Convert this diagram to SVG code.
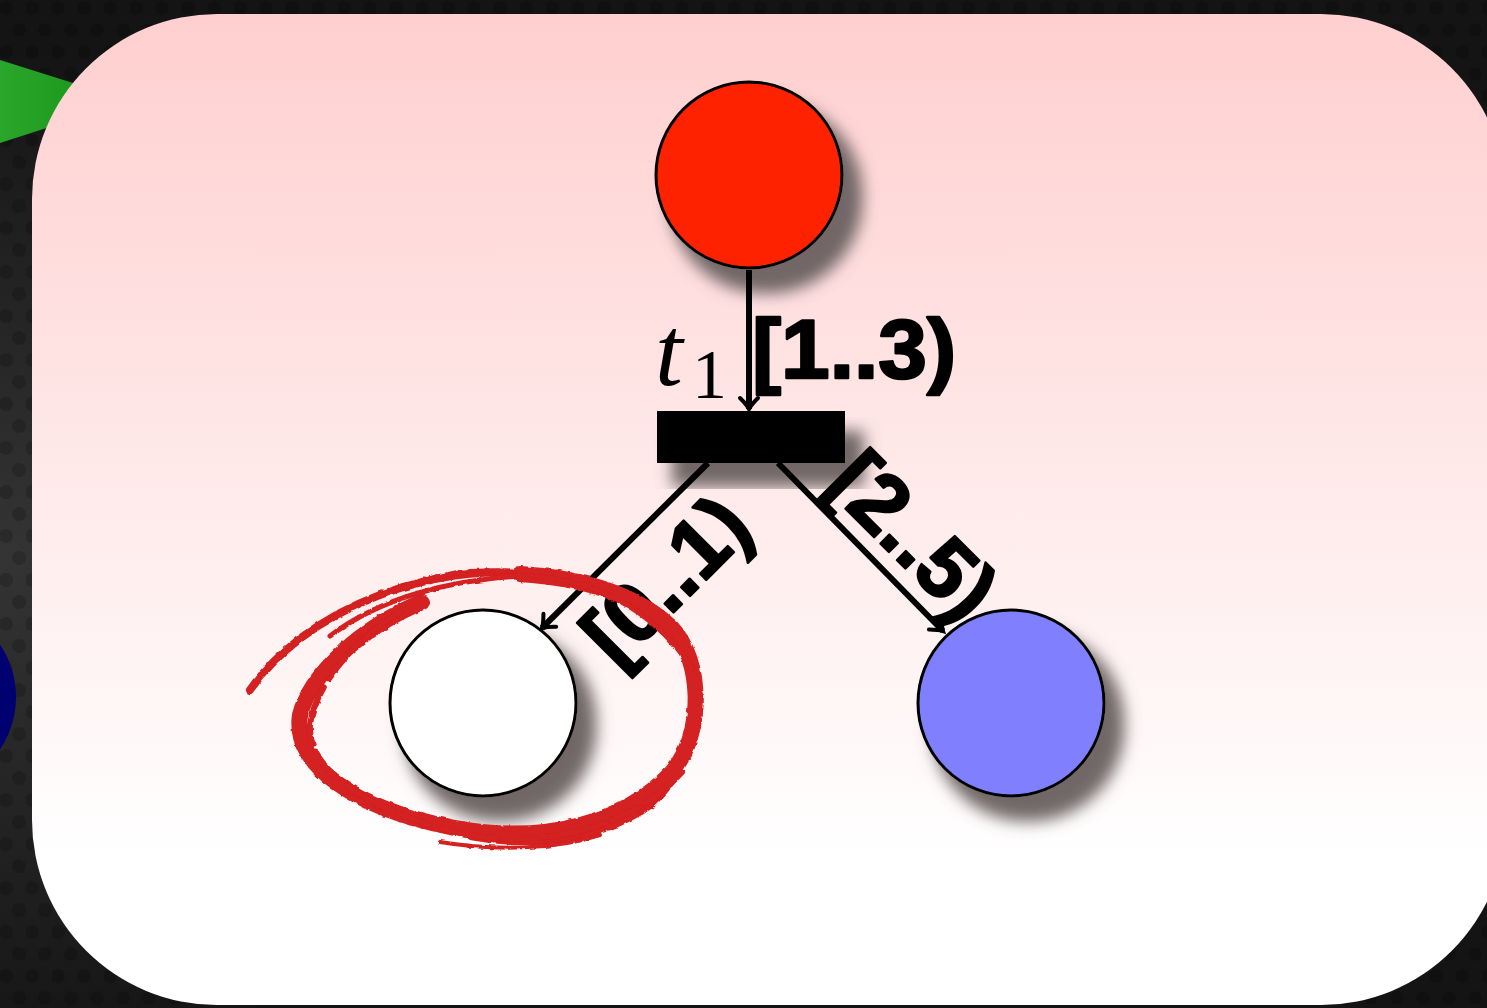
<svg xmlns="http://www.w3.org/2000/svg" width="1487" height="1008" viewBox="0 0 1487 1008">
  <defs>
    <style>
      .place { stroke: #000; stroke-width: 3; }
      .arc { fill: none; stroke: #000; stroke-width: 6; }
      .lbl { font-family: "Liberation Sans", "DejaVu Sans", sans-serif; font-weight: bold; font-size: 84px; fill: #000; stroke: #000; stroke-width: 2.5; stroke-linejoin: round; }
      .scr { fill: none; stroke: #d42020; stroke-linecap: round; }
    </style>
    <radialGradient id="bgGlow" cx="0" cy="0.55" r="0.5" gradientUnits="objectBoundingBox">
      <stop offset="0" stop-color="#343434"/>
      <stop offset="1" stop-color="#141414"/>
    </radialGradient>
    <pattern id="dots" width="26" height="44" patternUnits="userSpaceOnUse">
      <circle cx="6" cy="8" r="7" fill="#000" opacity="0.18"/>
      <circle cx="19" cy="30" r="7" fill="#000" opacity="0.18"/>
    </pattern>
    <linearGradient id="boxGrad" x1="0" y1="14" x2="0" y2="860" gradientUnits="userSpaceOnUse">
      <stop offset="0" stop-color="#ffcfcf"/>
      <stop offset="1" stop-color="#ffffff"/>
    </linearGradient>
    <linearGradient id="greenGrad" x1="0" y1="0" x2="1" y2="0">
      <stop offset="0" stop-color="#2aa62a"/>
      <stop offset="1" stop-color="#159215"/>
    </linearGradient>
    <filter id="shadow" x="-30%" y="-30%" width="180%" height="180%">
      <feMorphology in="SourceAlpha" operator="dilate" radius="2" result="d"/>
      <feGaussianBlur in="d" stdDeviation="8" result="b"/>
      <feOffset in="b" dx="17" dy="22" result="o"/>
      <feFlood flood-color="#6a6060" flood-opacity="0.95"/>
      <feComposite in2="o" operator="in" result="s"/>
      <feMerge>
        <feMergeNode in="s"/>
        <feMergeNode in="SourceGraphic"/>
      </feMerge>
    </filter>
    <filter id="rough" x="-10%" y="-10%" width="120%" height="120%">
      <feTurbulence type="fractalNoise" baseFrequency="0.15" numOctaves="2" seed="3" result="n"/>
      <feDisplacementMap in="SourceGraphic" in2="n" scale="3" xChannelSelector="R" yChannelSelector="G"/>
    </filter>
    <marker id="arrow" markerWidth="24" markerHeight="24" refX="0" refY="0" viewBox="-14 -12 16 24" orient="auto" markerUnits="userSpaceOnUse">
      <path d="M -11 -9 Q -4 -2 0 0 Q -4 2 -11 9" fill="none" stroke="#000" stroke-width="4" stroke-linecap="round"/>
    </marker>
  </defs>

  <g id="background">
    <rect x="0" y="0" width="1487" height="1008" fill="url(#bgGlow)"/>
    <rect x="0" y="0" width="1487" height="1008" fill="url(#dots)"/>
    <polygon points="0,60 130,101 0,143" fill="url(#greenGrad)"/>
    <circle cx="-78" cy="697" r="94" fill="#000070"/>
    <rect x="32" y="14" width="1474" height="991" rx="185" ry="185" fill="url(#boxGrad)"/>
  </g>

  <g id="p-top">
    <circle cx="749" cy="175" r="93" fill="#ff2200" class="place" filter="url(#shadow)"/>
  </g>

  <g id="t1">
    <rect x="657" y="411" width="188" height="52" fill="#000" filter="url(#shadow)"/>
    <text x="655" y="385" font-family="'Liberation Serif', 'DejaVu Serif', serif" font-style="italic" font-size="100" fill="#000">t</text>
    <text x="692" y="398" font-family="'Liberation Serif', 'DejaVu Serif', serif" font-size="70" fill="#000">1</text>
  </g>

  <g id="p-left">
    <circle cx="483" cy="703" r="93" fill="#ffffff" class="place" filter="url(#shadow)"/>
  </g>

  <g id="p-right">
    <circle cx="1011" cy="703" r="93" fill="#8080ff" class="place" filter="url(#shadow)"/>
  </g>

  <g id="connectors">
    <line x1="749" y1="270" x2="749" y2="409" class="arc" marker-end="url(#arrow)"/>
    <line x1="708" y1="463" x2="542" y2="628" class="arc" marker-end="url(#arrow)"/>
    <line x1="778" y1="463" x2="943" y2="631" class="arc" marker-end="url(#arrow)"/>
    <text x="752" y="378" class="lbl" textLength="204" lengthAdjust="spacingAndGlyphs">[1..3)</text>
    <text transform="translate(686,600) rotate(-45)" x="0" y="0" text-anchor="middle" class="lbl">[0..1)</text>
    <text transform="translate(893,556) rotate(45)" x="0" y="0" text-anchor="middle" class="lbl">[2..5)</text>
  </g>

  <g id="scribble" filter="url(#rough)">
    <path class="scr" stroke-width="8" stroke-dasharray="70 5 40 4 90 6" d="M 250 690 C 285 640, 350 596, 440 578 C 540 560, 640 585, 685 645 C 712 690, 700 760, 650 805 C 600 840, 530 848, 470 836"/>
    <path class="scr" stroke-width="5" stroke-dasharray="40 6 25 8" d="M 262 676 C 300 630, 370 590, 460 572 C 560 564, 652 600, 692 660 C 712 700, 700 765, 642 812"/>
    <path class="scr" stroke-width="16" d="M 422 602 C 360 628, 310 675, 300 715 C 292 765, 355 808, 450 827 C 545 846, 625 822, 672 772 C 705 732, 702 660, 672 628 C 640 596, 585 578, 520 574"/>
    <path class="scr" stroke-width="6" stroke-dasharray="60 8 30 10" d="M 400 612 C 350 642, 314 690, 310 725 C 307 772, 372 812, 462 834 C 562 852, 642 817, 682 772"/>
    <path class="scr" stroke-width="5" d="M 330 636 C 380 598, 450 580, 520 576 C 590 576, 652 608, 692 668"/>
    <path class="scr" stroke-width="4" d="M 440 842 C 500 852, 560 848, 600 835"/>
  </g>
</svg>
